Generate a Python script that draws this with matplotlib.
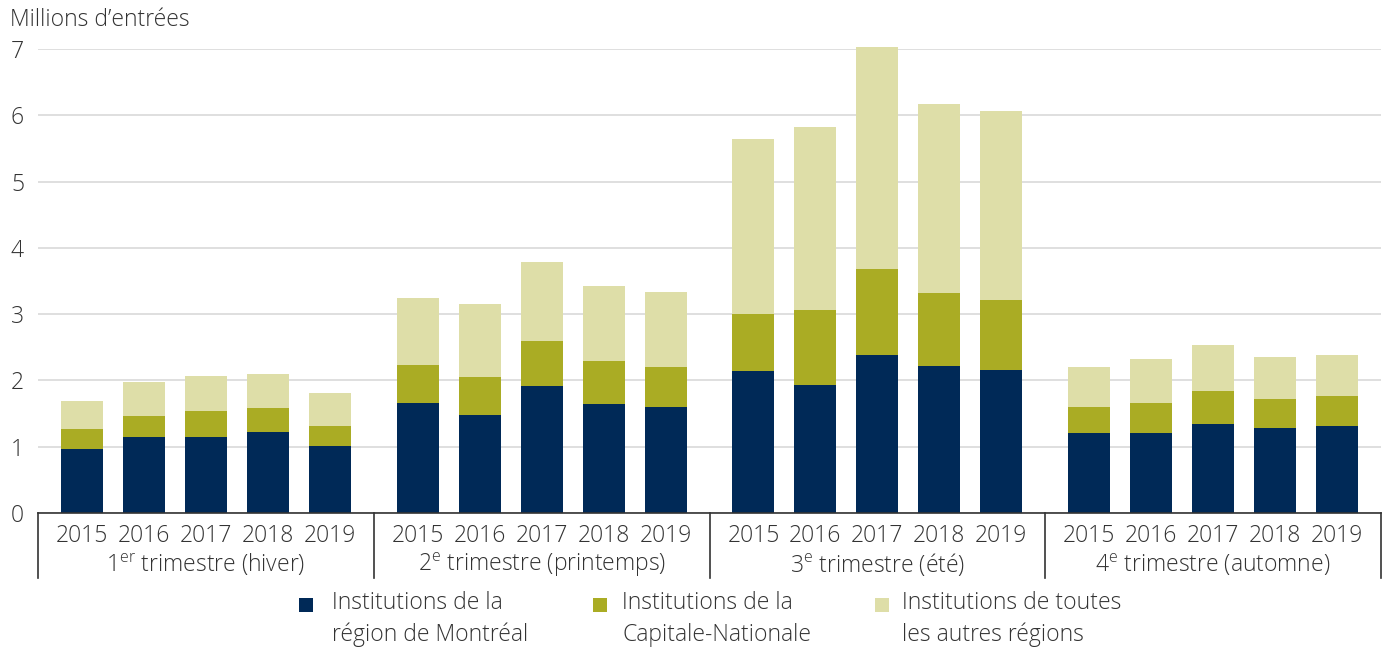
import matplotlib

matplotlib.use("Agg")
import matplotlib.pyplot as plt
import numpy as np
from matplotlib.patches import Rectangle

# data (millions d'entrées)
years = ["2015", "2016", "2017", "2018", "2019"]
quarters = [
    "1$^{\\mathregular{er}}$ trimestre (hiver)",
    "2$^{\\mathregular{e}}$ trimestre (printemps)",
    "3$^{\\mathregular{e}}$ trimestre (été)",
    "4$^{\\mathregular{e}}$ trimestre (automne)",
]
montreal = [
    [0.96, 1.14, 1.14, 1.22, 1.01],
    [1.66, 1.48, 1.91, 1.64, 1.60],
    [2.14, 1.93, 2.38, 2.22, 2.15],
    [1.21, 1.20, 1.35, 1.28, 1.32],
]
capitale = [
    [0.30, 0.32, 0.40, 0.36, 0.31],
    [0.57, 0.57, 0.69, 0.66, 0.60],
    [0.86, 1.13, 1.30, 1.10, 1.06],
    [0.39, 0.46, 0.49, 0.44, 0.44],
]
autres = [
    [0.43, 0.51, 0.52, 0.51, 0.49],
    [1.01, 1.10, 1.19, 1.12, 1.13],
    [2.64, 2.77, 3.35, 2.85, 2.86],
    [0.60, 0.66, 0.70, 0.63, 0.63],
]
series_labels = [
    "Institutions de la\nrégion de Montréal",
    "Institutions de la\nCapitale-Nationale",
    "Institutions de toutes\nles autres régions",
]
colors = ["#002957", "#aaac24", "#dedea8"]

plt.rcParams.update({
    "font.family": ["Open Sans", "DejaVu Sans"],
    "font.weight": "light",
    "font.size": 16.5,
    "mathtext.fontset": "custom",
    "mathtext.rm": "Open Sans:light",
})

W, H = 1385, 648
fig = plt.figure(figsize=(W / 100, H / 100), dpi=100)
x0, x1, y0, y1 = 38, 1381, 513, 49
ax = fig.add_axes([x0 / W, 1 - y0 / H, (x1 - x0) / W, (y0 - y1) / H])

group_w = 336 / 62
offset = (group_w - 4) / 2
bar_w = 42 / 62
text_col = "#333333"

xs_all = []
for g in range(4):
    xs = g * group_w + offset + np.arange(len(years))
    xs_all.extend(xs)
    m = np.array(montreal[g])
    c = np.array(capitale[g])
    a = np.array(autres[g])
    ax.bar(xs, m, width=bar_w, color=colors[0], zorder=2, clip_on=False)
    ax.bar(xs, c, bottom=m, width=bar_w, color=colors[1], zorder=2, clip_on=False)
    ax.bar(xs, a, bottom=m + c, width=bar_w, color=colors[2], zorder=2, clip_on=False)
    ax.text(g * group_w + group_w / 2, -0.112, quarters[g], transform=ax.get_xaxis_transform(),
            ha="center", va="center", color=text_col)

ax.set_xlim(0, 4 * group_w)
ax.set_ylim(0, 7)
ax.set_yticks(range(8))
ax.set_xticks(xs_all)
ax.set_xticklabels(years * 4, color=text_col)
ax.tick_params(axis="x", length=0, pad=8)
ax.tick_params(axis="y", length=0, pad=10, labelcolor=text_col)
ax.grid(axis="y", color="#dcdcdc", linewidth=1.3, zorder=0)
for s in ["left", "right", "top"]:
    ax.spines[s].set_visible(False)
ax.spines["bottom"].set_color("#333333")
ax.spines["bottom"].set_linewidth(1.2)

# group separators under the axis
for g in range(5):
    ax.plot([g * group_w, g * group_w], [0, -65 / (y0 - y1)], transform=ax.get_xaxis_transform(),
            color="#333333", linewidth=1.2, clip_on=False)

fig.text(10 / W, 1 - 20 / H, "Millions d\u2019entrées", ha="left", va="center", color=text_col)

# legend
for sq_x, tx_x, col, lab in zip([299, 593, 875], [332, 622, 902], colors, series_labels):
    fig.add_artist(Rectangle((sq_x / W, 1 - 612 / H), 14 / W, 14 / H, transform=fig.transFigure,
                             color=col, linewidth=0))
    fig.text(tx_x / W, 1 - 619 / H, lab, ha="left", va="center", color=text_col, linespacing=1.4)

fig.savefig("out.png", dpi=100)
